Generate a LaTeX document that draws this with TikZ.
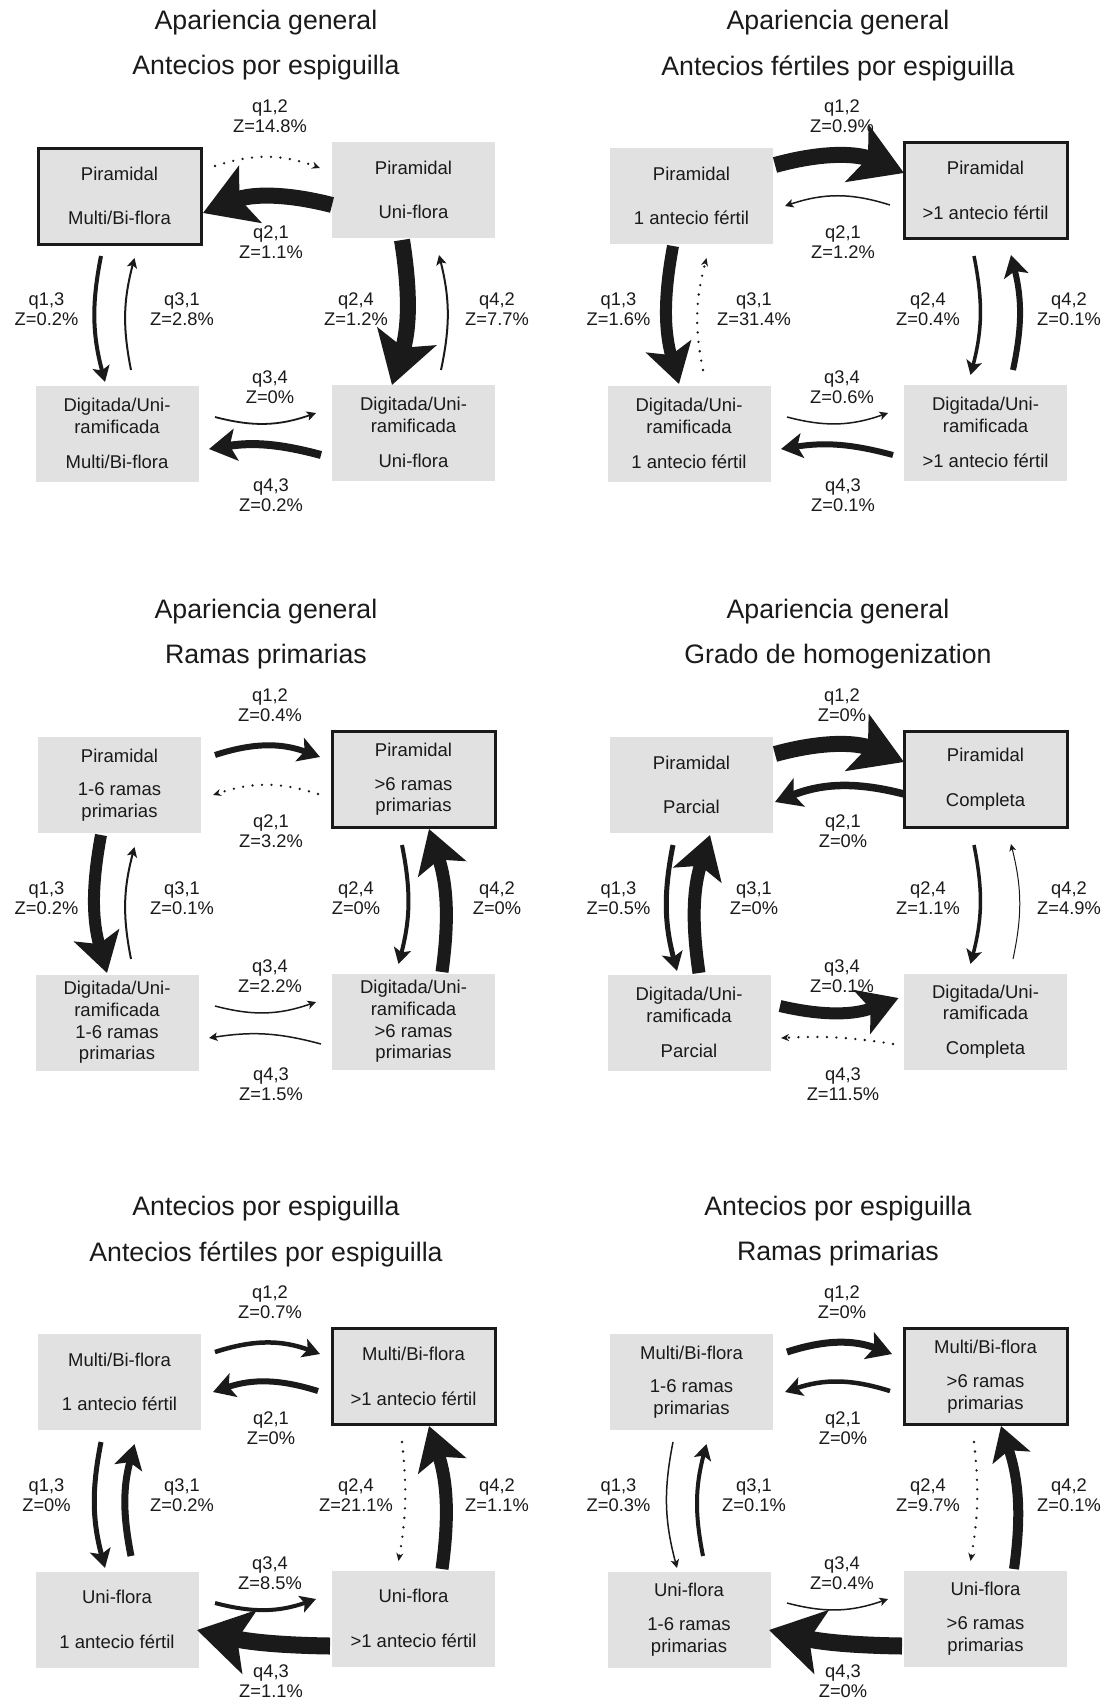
\documentclass[tikz,border=0pt]{standalone}
\usepackage{fontspec}
\setmainfont{Liberation Sans}
\usetikzlibrary{arrows.meta,calc}
\definecolor{boxgray}{HTML}{E1E1E1}
\definecolor{ink}{HTML}{1A1A1A}
\tikzset{
  statebox/.style={fill=boxgray, minimum width=163pt, minimum height=96pt, inner sep=0pt, align=center, text=ink, font=\fontsize{18.5}{21.7}\selectfont},
  thickbox/.style={statebox, draw=ink, line width=3pt},
  rate/.style={align=center, inner sep=0pt, text=ink, font=\fontsize{18.3}{20}\selectfont},
  ttl/.style={inner sep=0pt, text=ink, font=\fontsize{26.7}{32}\selectfont},
  arr/.style={draw=ink, line width=#1, -{Stealth[length=4pt 2.9, width=3pt 3.6, inset=1pt 0.65]}},
  dotarr/.style={draw=ink, line width=2.6pt, line cap=round, dash pattern=on 0pt off 9.5pt, -{Stealth[length=8pt, width=7pt, inset=2.5pt]}},
}
\newcommand\stdlayout{%
 \coordinate (a12s) at (215,-146); \coordinate (a12e) at (320,-148);
 \coordinate (A12s) at (203,-145); \coordinate (A12e) at (332,-153);
 \coordinate (a21s) at (318,-185); \coordinate (a21e) at (213,-186);
 \coordinate (A21s) at (332,-185); \coordinate (A21e) at (203,-193);
 \coordinate (a13s) at (101,-236); \coordinate (a13e) at (105,-362);
 \coordinate (A13s) at (101,-226); \coordinate (A13e) at (107,-364);
 \coordinate (a31s) at (131,-350); \coordinate (a31e) at (134.5,-238);
 \coordinate (A31s) at (127,-364); \coordinate (A31e) at (138,-226);
 \coordinate (a24s) at (402,-236); \coordinate (a24e) at (398.5,-355);
 \coordinate (A24s) at (402,-220); \coordinate (A24e) at (392,-365);
 \coordinate (a42s) at (441,-350); \coordinate (a42e) at (439,-235);
 \coordinate (A42s) at (442,-363); \coordinate (A42e) at (429,-220);
 \coordinate (a34s) at (215,-397); \coordinate (a34e) at (316,-393);
 \coordinate (A34s) at (208,-397); \coordinate (A34e) at (326.5,-389);
 \coordinate (a43s) at (321,-435); \coordinate (a43e) at (209,-429);
 \coordinate (A43s) at (330,-440); \coordinate (A43e) at (197,-424);
}
\newcommand\rates[8]{%
 \node[rate] (l12) at (270,-96) {q1,2\\Z=#1\%};
 \node[rate] (l21) at (271,-222) {q2,1\\Z=#2\%};
 \node[rate] (l13) at (46.5,-289) {q1,3\\Z=#3\%};
 \node[rate] (l31) at (182,-289) {q3,1\\Z=#4\%};
 \node[rate] (l24) at (356,-289) {q2,4\\Z=#5\%};
 \node[rate] (l42) at (497,-289) {q4,2\\Z=#6\%};
 \node[rate] (l34) at (270,-367) {q3,4\\Z=#7\%};
 \node[rate] (l43) at (271,-475) {q4,3\\Z=#8\%};
}
\newcommand\titles[2]{%
 \node[ttl] (t1) at (266,-2.5) {#1};
 \node[ttl] (t2) at (266,-48) {#2};
}
\begin{document}
\begin{tikzpicture}[x=1pt,y=1pt]
\useasboundingbox[fill=white] (0,0) rectangle (1108,-1702);

% ---------- Panel 1 ----------
\begin{scope}[shift={(0,-20)}, name prefix=p1-]
 \stdlayout
 \titles{Apariencia general}{Antecios por espiguilla}
 \node[thickbox] (tl) at (119.5,-176) {Piramidal\\[23pt]Multi/Bi-flora};
 \node[statebox] (tr) at (413.5,-170) {Piramidal\\[23pt]Uni-flora};
 \node[statebox] (bl) at (117,-413.5) {Digitada/Uni-\\ramificada\\[13pt]Multi/Bi-flora};
 \node[statebox] (br) at (413.5,-412.5) {Digitada/Uni-\\ramificada\\[13pt]Uni-flora};
 \rates{14.8}{1.1}{0.2}{2.8}{1.2}{7.7}{0}{0.2}
 \draw[dotarr] (a12s) to[bend left=19] (a12e);
 \draw[arr=16pt] (A21s) to[bend right=18] (A21e);
 \draw[arr=4pt] (a13s) to[bend right=13] (a13e);
 \draw[arr=2pt] (a31s) to[bend left=13] (a31e);
 \draw[arr=16pt] (A24s) to[bend left=13] (A24e);
 \draw[arr=2pt] (a42s) to[bend right=13] (a42e);
 \draw[arr=1.8pt] (a34s) to[bend right=17] (a34e);
 \draw[arr=8pt] (a43s) to[bend right=12] (a43e);
\end{scope}

% ---------- Panel 2 ----------
\begin{scope}[shift={(572,-20)}, name prefix=p2-]
 \stdlayout
 \titles{Apariencia general}{Antecios fértiles por espiguilla}
 \node[statebox] (tl) at (119.5,-176) {Piramidal\\[23pt]1 antecio fértil};
 \node[thickbox] (tr) at (413.5,-170.5) {Piramidal\\[23pt]>1 antecio fértil};
 \node[statebox] (bl) at (117,-413.5) {Digitada/Uni-\\ramificada\\[13pt]1 antecio fértil};
 \node[statebox] (br) at (413.5,-412.5) {Digitada/Uni-\\ramificada\\[13pt]>1 antecio fértil};
 \rates{0.9}{1.2}{1.6}{31.4}{0.4}{0.1}{0.6}{0.1}
 \draw[arr=16pt] (A12s) to[bend left=19] (A12e);
 \draw[arr=1.5pt] (a21s) to[bend right=18] (a21e);
 \draw[arr=12pt] (A13s) to[bend right=13] (A13e);
 \draw[dotarr] (a31s) to[bend left=13] (a31e);
 \draw[arr=3.5pt] (a24s) to[bend left=13] (a24e);
 \draw[arr=6pt] (a42s) to[bend right=13] (a42e);
 \draw[arr=1.5pt] (a34s) to[bend right=17] (a34e);
 \draw[arr=6pt] (a43s) to[bend right=12] (a43e);
\end{scope}

% ---------- Panel 3 ----------
\begin{scope}[shift={(0,-609)}, name prefix=p3-]
 \stdlayout
 \titles{Apariencia general}{Ramas primarias}
 \node[statebox] (tl) at (119.5,-176) {Piramidal\\[12pt]1-6 ramas\\primarias};
 \node[thickbox] (tr) at (413.5,-170.5) {Piramidal\\[12pt]>6 ramas\\primarias};
 \node[statebox] (bl) at (117,-413.5) {Digitada/Uni-\\ramificada\\1-6 ramas\\primarias};
 \node[statebox] (br) at (413.5,-412.5) {Digitada/Uni-\\ramificada\\>6 ramas\\primarias};
 \rates{0.4}{3.2}{0.2}{0.1}{0}{0}{2.2}{1.5}
 \draw[arr=6pt] (a12s) to[bend left=19] (a12e);
 \draw[dotarr] (a21s) to[bend right=18] (a21e);
 \draw[arr=12pt] (A13s) to[bend right=13] (A13e);
 \draw[arr=2pt] (a31s) to[bend left=13] (a31e);
 \draw[arr=4pt] (a24s) to[bend left=13] (a24e);
 \draw[arr=13pt] (A42s) to[bend right=13] (A42e);
 \draw[arr=1.5pt] (a34s) to[bend right=17] (a34e);
 \draw[arr=1.5pt] (a43s) to[bend right=12] (a43e);
\end{scope}

% ---------- Panel 4 ----------
\begin{scope}[shift={(572,-609)}, name prefix=p4-]
 \stdlayout
 \titles{Apariencia general}{Grado de homogenization}
 \node[statebox] (tl) at (119.5,-176) {Piramidal\\[23pt]Parcial};
 \node[thickbox] (tr) at (413.5,-170.5) {Piramidal\\[23pt]Completa};
 \node[statebox] (bl) at (117,-413.5) {Digitada/Uni-\\ramificada\\[13pt]Parcial};
 \node[statebox] (br) at (413.5,-412.5) {Digitada/Uni-\\ramificada\\[13pt]Completa};
 \rates{0}{0}{0.5}{0}{1.1}{4.9}{0.1}{11.5}
 \draw[arr=16pt] (A12s) to[bend left=19] (A12e);
 \draw[arr=7.5pt] (A21s) to[bend right=18] (A21e);
 \draw[arr=5pt] (a13s) to[bend right=13] (a13e);
 \draw[arr=13pt] (A31s) to[bend left=13] (A31e);
 \draw[arr=3.5pt] (a24s) to[bend left=13] (a24e);
 \draw[arr=1pt] (a42s) to[bend right=13] (a42e);
 \draw[arr=12pt] (A34s) to[bend right=17] (A34e);
 \draw[dotarr] (a43s) to[bend right=6] (a43e);
\end{scope}

% ---------- Panel 5 ----------
\begin{scope}[shift={(0,-1206)}, name prefix=p5-]
 \stdlayout
 \titles{Antecios por espiguilla}{Antecios fértiles por espiguilla}
 \node[statebox] (tl) at (119.5,-176) {Multi/Bi-flora\\[23pt]1 antecio fértil};
 \node[thickbox] (tr) at (413.5,-170.5) {Multi/Bi-flora\\[23pt]>1 antecio fértil};
 \node[statebox] (bl) at (117,-413.5) {Uni-flora\\[23pt]1 antecio fértil};
 \node[statebox] (br) at (413.5,-412.5) {Uni-flora\\[23pt]>1 antecio fértil};
 \rates{0.7}{0}{0}{0.2}{21.1}{1.1}{8.5}{1.1}
 \draw[arr=4.5pt] (a12s) to[bend left=19] (a12e);
 \draw[arr=6pt] (a21s) to[bend right=18] (a21e);
 \draw[arr=5pt] (a13s) to[bend right=13] (a13e);
 \draw[arr=7pt] (a31s) to[bend left=13] (a31e);
 \draw[dotarr] (a24s) to[bend left=8] (a24e);
 \draw[arr=13pt] (A42s) to[bend right=13] (A42e);
 \draw[arr=4pt] (a34s) to[bend right=17] (a34e);
 \draw[arr=17pt] (A43s) to[bend left=6] (A43e);
\end{scope}

% ---------- Panel 6 ----------
\begin{scope}[shift={(572,-1206)}, name prefix=p6-]
 \stdlayout
 \titles{Antecios por espiguilla}{Ramas primarias}
 \node[statebox] (tl) at (119.5,-176) {Multi/Bi-flora\\[12pt]1-6 ramas\\primarias};
 \node[thickbox] (tr) at (413.5,-170.5) {Multi/Bi-flora\\[12pt]>6 ramas\\primarias};
 \node[statebox] (bl) at (117,-413.5) {Uni-flora\\[12pt]1-6 ramas\\primarias};
 \node[statebox] (br) at (413.5,-412.5) {Uni-flora\\[12pt]>6 ramas\\primarias};
 \rates{0}{0}{0.3}{0.1}{9.7}{0.1}{0.4}{0}
 \draw[arr=7pt] (a12s) to[bend left=19] (a12e);
 \draw[arr=4.5pt] (a21s) to[bend right=18] (a21e);
 \draw[arr=1.5pt] (a13s) to[bend right=13] (a13e);
 \draw[arr=4pt] (a31s) to[bend left=13] (a31e);
 \draw[dotarr] (a24s) to[bend left=8] (a24e);
 \draw[arr=10pt] (A42s) to[bend right=13] (A42e);
 \draw[arr=1.5pt] (a34s) to[bend right=17] (a34e);
 \draw[arr=17pt] (A43s) to[bend left=6] (A43e);
\end{scope}
\end{tikzpicture}
\end{document}
